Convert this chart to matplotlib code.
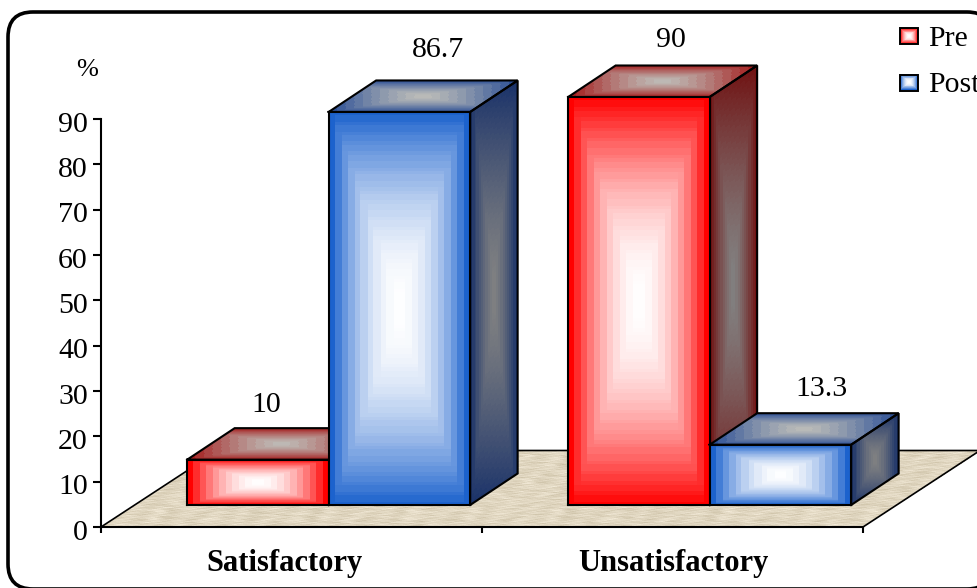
import numpy as np
import matplotlib
matplotlib.use("Agg")
import matplotlib.pyplot as plt
from matplotlib.patches import FancyBboxPatch, Rectangle
from matplotlib.transforms import ScaledTranslation

plt.rcParams["font.family"] = ["Liberation Serif", "DejaVu Serif"]

categories = ["Satisfactory", "Unsatisfactory"]
series_names = ["Pre", "Post"]
pre_values = [10, 90]
post_values = [86.7, 13.3]
y_ticks = list(range(0, 100, 10))

W, H = 977, 588
fig = plt.figure(figsize=(W / 100, H / 100), dpi=100)
page = fig.add_axes([0, 0, 1, 1])
page.set_xlim(0, W)
page.set_ylim(H, 0)
page.axis("off")
page.add_patch(FancyBboxPatch((8, 12), 984, 577,
                              boxstyle="round,pad=0,rounding_size=25",
                              fc="white", ec="black", lw=2.6))

# Plot area: value axis runs 0-90 and each category occupies one x unit
ax_l, ax_r, ax_b, ax_t = 101, 863, 527, 119
ax = fig.add_axes([ax_l / W, 1 - ax_b / H, (ax_r - ax_l) / W, (ax_b - ax_t) / H])
ax.set_xlim(0, 2)
ax.set_ylim(0, 90)
ax.patch.set_visible(False)
for s in ("top", "right"):
    ax.spines[s].set_visible(False)
for s in ("left", "bottom"):
    ax.spines[s].set_linewidth(1.5)
    ax.spines[s].set_zorder(20)
ax.set_yticks(y_ticks)
ax.set_xticks([0, 1, 2])
ax.set_xticklabels([])
ax.tick_params(axis="y", direction="out", length=5.5, width=1.5, labelsize=21.5, pad=4)
ax.tick_params(axis="x", direction="out", length=4.5, width=1.5)
label_shift = ScaledTranslation(0, -0.025, fig.dpi_scale_trans)
for lab in ax.get_yticklabels():
    lab.set_transform(lab.get_transform() + label_shift)

# Oblique projection used for the floor and the bar depth, in data units
px_x, px_y = 381.0, 4.533
floor_dx, floor_dy = 117 / px_x, 76.5 / px_y
depth_dx, depth_dy = 47.5 / px_x, 31.5 / px_y
bar_lift = 22 / px_y
bar_width = 141.5 / px_x
group_centre = 0.5 + 0.0975


def floor_texture(rows, cols):
    # Mottled stone made of layered slanted waves
    v, u = np.meshgrid(np.linspace(0, 1, rows), np.linspace(0, 1, cols), indexing="ij")
    t = (np.sin(u * 47 + 9 * np.sin(v * 31)) * np.sin(v * 190 + 3 * np.sin(u * 60))
         + 0.7 * np.sin(u * 131 + v * 70) * np.sin(v * 410 + u * 37)
         + 0.5 * np.sin(u * 293 - v * 150)
         + 0.5 * np.sin(u * 613 + v * 260) * np.sin(u * 71 - v * 43))
    t = t / 2.2
    base = np.array([224, 214, 192]) / 255
    return np.clip(base[None, None, :] + t[..., None] * np.array([0.07, 0.075, 0.09]), 0, 1)


def bevel(corner, ex, ey, edge, centre, zorder, power=1.4):
    # Parallelogram filled with a stepped, upright rectangular gradient
    # measured across its bounding box, so slanted faces show level bands
    n = 120
    s = np.linspace(0, 1, n + 1)
    S, T = np.meshgrid(s, s)
    X = corner[0] + S * ex[0] + T * ey[0]
    Y = corner[1] + S * ex[1] + T * ey[1]
    xc = (X[:-1, :-1] + X[1:, 1:]) / 2
    yc = (Y[:-1, :-1] + Y[1:, 1:]) / 2
    xmin, xmax, ymin, ymax = X.min(), X.max(), Y.min(), Y.max()
    U = np.abs(2 * (xc - xmin) / (xmax - xmin) - 1)
    V = np.abs(2 * (yc - ymin) / (ymax - ymin) - 1)
    d = np.maximum(np.ceil(U * 11) / 11, np.ceil(V * 40) / 40)
    d = np.clip(d, 0, 1)[..., None] ** power
    rgb = np.array(centre)[None, None, :] * (1 - d) + np.array(edge)[None, None, :] * d
    ax.pcolormesh(X, Y, np.clip(rgb / 255, 0, 1), shading="flat", zorder=zorder, antialiased=False,
                  edgecolors="none", clip_on=False)
    outline = np.array([corner, (corner[0] + ex[0], corner[1] + ex[1]),
                        (corner[0] + ex[0] + ey[0], corner[1] + ex[1] + ey[1]),
                        (corner[0] + ey[0], corner[1] + ey[1]), corner])
    ax.plot(outline[:, 0], outline[:, 1], color="black", lw=1.5, zorder=zorder + 0.1,
            clip_on=False, solid_joinstyle="miter")


palette = {
    "Pre": dict(front=(255, 0, 0), front_c=(255, 255, 255), top=(165, 30, 30),
                top_c=(190, 190, 185), side=(112, 18, 18), side_c=(130, 130, 130)),
    "Post": dict(front=(28, 98, 205), front_c=(255, 255, 255), top=(45, 80, 150),
                 top_c=(190, 190, 185), side=(26, 50, 105), side_c=(130, 130, 130)),
}


def bar3d(x0, value, colours, z):
    y0 = bar_lift
    bevel((x0, y0), (bar_width, 0), (0, value), colours["front"], colours["front_c"], z + 0.6,
          power=2.0)
    bevel((x0, y0 + value), (bar_width, 0), (depth_dx, depth_dy),
          colours["top"], colours["top_c"], z + 0.3)
    bevel((x0 + bar_width, y0), (depth_dx, depth_dy), (0, value),
          colours["side"], colours["side_c"], z + 0.3)


# Floor parallelogram with its back and side edges
n_rows, n_cols = 76, 400
sf, tf = np.meshgrid(np.linspace(0, 1, n_cols + 1), np.linspace(0, 1, n_rows + 1))
ax.pcolormesh(sf * 2 + tf * floor_dx, tf * floor_dy, floor_texture(n_rows, n_cols),
              shading="flat", zorder=1, antialiased=False, edgecolors="none", clip_on=False)
ax.plot([0, floor_dx, 2 + floor_dx, 2], [0, floor_dy, floor_dy, 0], color="black", lw=1.2,
        zorder=2, clip_on=False)

all_values = (pre_values, post_values)
# Label nudges in pixels, per series and category
nudge_x = ((-15, 8), (15, 17))
nudge_y = ((23, 25), (30, 24))
for i, (name, values) in enumerate(zip(series_names, all_values)):
    for j, val in enumerate(values):
        x0 = j + group_centre - bar_width + i * bar_width
        bar3d(x0, val, palette[name], 5 + j * 3 + i)
        ax.annotate(f"{val:g}", xy=(x0 + bar_width / 2 + depth_dx / 2, val + bar_lift + depth_dy),
                    xytext=(nudge_x[i][j], nudge_y[i][j]), textcoords="offset pixels",
                    ha="center", va="center", fontsize=21.5, zorder=30, annotation_clip=False)

for j, cat in enumerate(categories):
    page.text(284.5 + j * 388.5, 563, cat, ha="center", va="center", fontsize=22,
              fontweight="bold", zorder=30)
page.text(87, 70, "%", ha="center", va="center", fontsize=19)

# Legend entries, cut off by the right side of the figure
for name, yc, edge in zip(series_names, (36, 82.5), ((255, 0, 0), (28, 98, 205))):
    sw, sh = 18, 16
    xl, yt = 900, yc - sh / 2
    g = np.abs(np.linspace(-1, 1, 18))
    d = np.maximum(*np.meshgrid(g, g))[..., None]
    rgb = (np.array([255, 255, 255]) * (1 - d ** 2) + np.array(edge) * d ** 2) / 255
    page.imshow(np.clip(rgb, 0, 1), extent=(xl, xl + sw, yt + sh, yt), zorder=30, aspect="auto",
                interpolation="nearest")
    page.add_patch(Rectangle((xl, yt), sw, sh, fc="none", ec="black", lw=1.4, zorder=31))
    page.text(928, yc + 3, name, ha="left", va="center", fontsize=21.5, zorder=31)
page.set_xlim(0, W)
page.set_ylim(H, 0)

fig.savefig("out.png", dpi=100)
